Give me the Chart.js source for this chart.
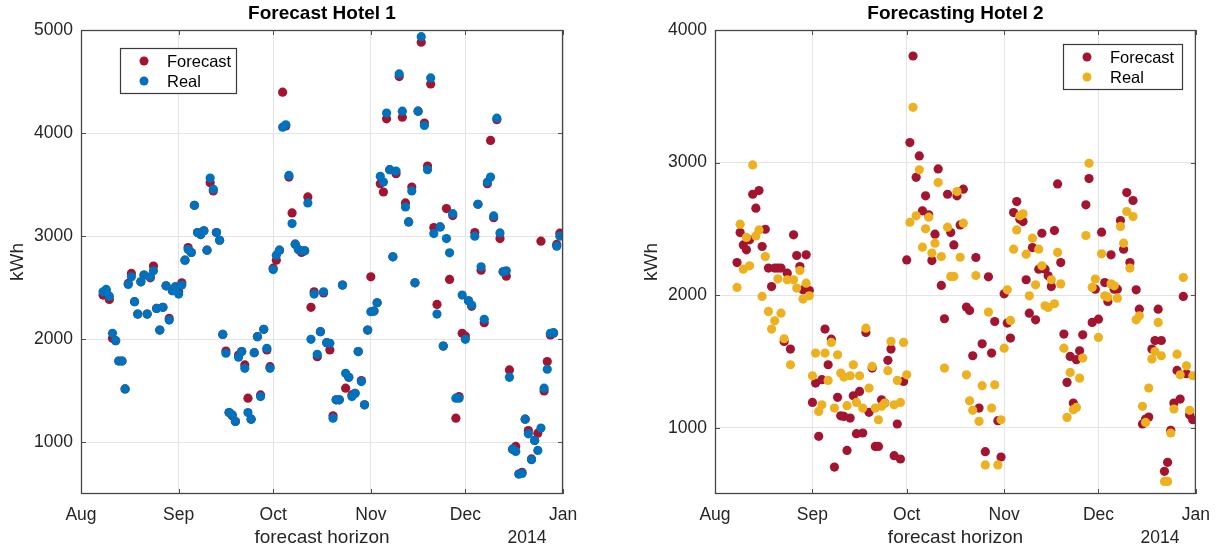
<!DOCTYPE html>
<html>
<head>
<meta charset="utf-8">
<title>Hotel forecasts</title>
<script src="https://cdn.jsdelivr.net/npm/chart.js@4.4.1/dist/chart.umd.min.js"></script>
<style>
    html, body { margin: 0; padding: 0; background: #ffffff; }
    #wrap { position: relative; width: 1221px; height: 548px; overflow: hidden; }
    .panel { position: absolute; top: 0; height: 548px; }
    #leftPanel { left: 0; width: 610px; }
    #rightPanel { left: 610px; width: 611px; }
</style>
</head>
<body>
<div id="wrap">
    <div class="panel" id="leftPanel"><canvas id="hotel1Chart" width="610" height="548"></canvas></div>
    <div class="panel" id="rightPanel"><canvas id="hotel2Chart" width="611" height="548"></canvas></div>
</div>
<script>
const FONT = 'Helvetica, Arial, "Liberation Sans", sans-serif';

// date axis: day offsets counted from 1 Aug 2013
const monthLabels = ["Aug", "Sep", "Oct", "Nov", "Dec", "Jan"];
const monthStarts = [0, 31, 61, 92, 122, 153];
const firstDay = 7; // first reading is 8 Aug
const yearLabel = "2014";

const hotel1Ticks = [1000, 2000, 3000, 4000, 5000];
const hotel2Ticks = [1000, 2000, 3000, 4000];

// Hotel 1, daily kWh (8 Aug .. 31 Dec)
const hotel1Forecast = [
    2429, 2470, 2387, 2010, 1987, 1790, 1790, 1519, 2542, 2639, 2365, 2245, 2558, 2623, 2245, 2597, 2710, 2300, 2090, 2310, 2519, 2203, 2471, 2510,
    2461, 2548, 2768, 2890, 2842, 3300, 3035, 3016, 3052, 2865, 3519, 3439, 3035, 2961, 2048, 1887, 1290, 1258, 1203, 1848, 1881, 1752, 1429, 1226, 1871, 2026, 1461, 2097, 1897, 1735,
    2690, 2768, 2865, 4397, 4070, 3574, 3226, 2923, 2871, 2842, 2858, 3381, 2310, 2461, 1832, 2074, 2450, 1968, 1897, 1258, 1413, 1413, 2526, 1526, 1632, 1461, 1477, 1881, 1600, 1365, 2090,
    2606, 2274, 2355, 3510, 3429, 4139, 3645, 2800, 3606, 4548, 4155, 3323, 3139, 3477, 2548, 4213, 4881, 4097, 3681, 4477, 3084, 2339, 3090, 1935, 3268, 2581, 3200, 1235, 1445, 2058,
    2032, 2374, 2320, 3035, 3310, 2671, 2161, 3510, 3929, 3180, 4130, 2977, 2655, 2613, 1703, 935, 961, 694, 710, 1226, 1116, 840, 1020, 1090, 2952, 1500, 1784, 2042, 2060, 2920, 3030
];
const hotel1Real = [
    2461, 2484, 2419, 2058, 1987, 1790, 1790, 1519, 2532, 2606, 2365, 2245, 2558, 2623, 2245, 2606, 2665, 2300, 2090, 2310, 2519, 2187, 2471, 2510,
    2439, 2526, 2768, 2871, 2842, 3300, 3035, 3016, 3052, 2865, 3564, 3455, 3035, 2961, 2048, 1865, 1290, 1268, 1203, 1826, 1881, 1719, 1290, 1226, 1871, 2026, 1445, 2097, 1913, 1719,
    2677, 2816, 2865, 4058, 4081, 3590, 3123, 2923, 2871, 2858, 2858, 3323, 2000, 2439, 1855, 2074, 2461, 1968, 1961, 1235, 1413, 1413, 2526, 1671, 1632, 1445, 1477, 1881, 1590, 1365, 2090,
    2268, 2274, 2355, 3581, 3526, 4194, 3645, 2800, 3632, 4574, 4213, 3284, 3139, 3439, 2548, 4213, 4935, 4074, 3645, 4535, 3026, 2245, 3090, 1935, 2977, 2839, 3219, 1429, 1429, 2429,
    2000, 2374, 2332, 3000, 3310, 2703, 2194, 3526, 3574, 3197, 4145, 3032, 2655, 2665, 1632, 935, 913, 694, 700, 1226, 1084, 832, 1019, 923, 1139, 1526, 1710, 2058, 2065, 2903, 3000
];

// Hotel 2, daily kWh (8 Aug .. 31 Dec)
const hotel2Forecast = [
    2246, 2472, 2379, 2342, 2417, 2761, 2656, 2789, 2367, 2497, 2204, 2065, 2204, 2204, 2204, 1651, 2166, 1593, 2455, 2299, 2216, 2040, 2304, 2035,
    1191, 1337, 935, 1362, 1744, 1475, 1668, 703, 1229, 1090, 1085, 829, 1073, 1241, 955, 1274, 960, 1719, 1116, 1450, 859, 859, 1211, 1186, 1508, 1593, 789, 1028, 764, 1349,
    2266, 3151, 3804, 2889, 3050, 2636, 2749, 2606, 2261, 2460, 2952, 2073, 1822, 2761, 2472, 2379, 2749, 2530, 2799, 1910, 1884, 1543, 2284, 1148, 1633, 819, 2138, 1563, 1801, 1053, 779,
    2010, 1789, 1676, 2623, 2706, 2573, 2555, 2116, 1864, 2359, 1814, 2196, 2467, 2196, 2146, 2065, 2487, 2839, 2246, 1706, 1342, 1538, 1186, 1513, 1580, 1701, 2681, 2879, 1794, 2045,
    1819, 2475, 2095, 1952, 2304, 2045, 2045, 2563, 2347, 2774, 2246, 2714, 2040, 1894, 1028, 1065, 1080, 1593, 1658, 1894, 1658, 671, 739, 980, 1186, 1432, 1216, 1990, 1407, 1098, 1060
];
const hotel2Real = [
    2058, 2535, 2196, 2435, 2221, 2982, 2447, 2492, 1990, 2291, 1877, 1744, 1807, 2123, 1864, 1671, 2116, 1475, 2116, 2053, 2186, 1970, 2090, 1995,
    1392, 1563, 1123, 1173, 1563, 1357, 1643, 1148, 1550, 1412, 1382, 1166, 1392, 1475, 1191, 1392, 1148, 1751, 1299, 1462, 1148, 1060, 1161, 1186, 1430, 1651, 1173, 1357, 1191, 1643,
    1399, 2550, 3417, 2598, 2945, 2362, 2500, 2588, 2317, 2392, 2849, 2291, 1450, 2513, 2141, 2141, 2781, 2286, 2543, 1399, 1203, 1131, 2148, 1048, 1317, 719, 1872, 1148, 1324, 719, 1060,
    1600, 2040, 1809, 2347, 2492, 2598, 2613, 2309, 1995, 2430, 2078, 2347, 2221, 1920, 1907, 2116, 1935, 2322, 2085, 1600, 1078, 1417, 1136, 1153, 1374, 1525, 2450, 2995, 2058, 2121,
    1681, 2312, 1995, 1985, 2085, 2070, 1977, 2518, 2392, 2631, 2204, 2593, 1814, 1844, 1161, 1040, 1299, 1518, 1575, 1794, 1543, 595, 595, 960, 1141, 1555, 1399, 2133, 1467, 1131, 1392
];

const RED = "#A2142F";
const BLUE = "#0072BD";
const YELLOW = "#EDB120";
const INK = "#262626";

function toPoints(values) {
    return values.map((v, i) => ({ x: firstDay + i, y: v }));
}

// Draws the MATLAB look: box, inward ticks, title, labels and legend
const matlabAxes = {
    id: "matlabAxes",
    afterDraw(chart, args, opts) {
        const { ctx, chartArea: a, scales } = chart;
        const line = (x1, y1, x2, y2) => {
            ctx.beginPath();
            ctx.moveTo(x1, y1);
            ctx.lineTo(x2, y2);
            ctx.stroke();
        };
        ctx.save();

        ctx.strokeStyle = "#4d4d4d";
        ctx.lineWidth = 1;
        scales.x.ticks.forEach((t) => {
            const px = Math.round(scales.x.getPixelForValue(t.value)) + 0.5;
            line(px, a.bottom, px, a.bottom - 5);
            line(px, a.top, px, a.top + 5);
        });
        scales.y.ticks.forEach((t) => {
            const py = Math.round(scales.y.getPixelForValue(t.value)) + 0.5;
            line(a.left, py, a.left + 5, py);
            line(a.right, py, a.right - 5, py);
        });
        ctx.lineWidth = 1.3;
        ctx.strokeStyle = "#474747";
        ctx.strokeRect(a.left + 0.5, a.top + 0.5, a.width - 1, a.height - 1);

        const cx = (a.left + a.right) / 2;
        ctx.fillStyle = "#000000";
        ctx.textAlign = "center";
        ctx.textBaseline = "alphabetic";
        ctx.font = `bold 19px ${FONT}`;
        ctx.fillText(opts.title, cx, 19);

        ctx.fillStyle = INK;
        ctx.font = `19px ${FONT}`;
        ctx.fillText("forecast horizon", cx, 543);
        ctx.font = `17.5px ${FONT}`;
        ctx.fillText(yearLabel, a.right - 36, 543);

        ctx.save();
        ctx.translate(opts.yLabelX, (a.top + a.bottom) / 2);
        ctx.rotate(-Math.PI / 2);
        ctx.textBaseline = "middle";
        ctx.font = `19px ${FONT}`;
        ctx.fillText("kWh", 0, 0);
        ctx.restore();

        // legend
        const lg = opts.legend;
        ctx.fillStyle = "#ffffff";
        ctx.fillRect(lg.x, lg.y, lg.w, lg.h);
        ctx.strokeStyle = "#3a3a3a";
        ctx.lineWidth = 1.2;
        ctx.strokeRect(lg.x + 0.5, lg.y + 0.5, lg.w, lg.h);
        ctx.textAlign = "left";
        ctx.textBaseline = "middle";
        ctx.font = `16.5px ${FONT}`;
        chart.data.datasets
            .slice()
            .sort((p, q) => p.legendRow - q.legendRow)
            .forEach((ds, i) => {
                const yy = lg.y + 13 + i * 20;
                ctx.fillStyle = ds.backgroundColor;
                ctx.beginPath();
                ctx.arc(lg.x + 24, yy, 4.5, 0, Math.PI * 2);
                ctx.fill();
                ctx.fillStyle = "#000000";
                ctx.fillText(ds.label, lg.x + 47, yy + 1);
            });

        ctx.restore();
    },
};

function buildChart(canvasId, cfg) {
    const ctx = document.getElementById(canvasId);
    return new Chart(ctx, {
        type: "scatter",
        data: {
            datasets: [
                {
                    label: "Forecast",
                    data: toPoints(cfg.forecast),
                    backgroundColor: RED,
                    pointRadius: 4.6,
                    pointBorderWidth: 0,
                    order: 1,
                    legendRow: 0,
                },
                {
                    label: "Real",
                    data: toPoints(cfg.real),
                    backgroundColor: cfg.realColor,
                    pointRadius: 4.6,
                    pointBorderWidth: 0,
                    order: 0,
                    legendRow: 1,
                },
            ],
        },
        options: {
            responsive: false,
            animation: false,
            devicePixelRatio: 1,
            layout: {
                padding: { left: 0, right: cfg.padRight, top: 30, bottom: 0 },
            },
            plugins: {
                legend: { display: false },
                title: { display: false },
                tooltip: { enabled: false },
                matlabAxes: {
                    title: cfg.title,
                    legend: cfg.legend,
                    yLabelX: cfg.yLabelX,
                },
            },
            scales: {
                x: {
                    type: "linear",
                    min: monthStarts[0],
                    max: monthStarts[monthStarts.length - 1],
                    afterFit: (scale) => {
                        scale.height = 54;
                    },
                    afterBuildTicks: (scale) => {
                        scale.ticks = monthStarts.map((v) => ({ value: v }));
                    },
                    ticks: {
                        autoSkip: false,
                        maxRotation: 0,
                        padding: 11,
                        color: INK,
                        font: { family: FONT, size: 17.5 },
                        callback: (value) => monthLabels[monthStarts.indexOf(value)],
                    },
                    grid: { color: "#e4e4e4", lineWidth: 1, drawTicks: false },
                    border: { display: false },
                },
                y: {
                    type: "linear",
                    min: cfg.yMin,
                    max: cfg.yMax,
                    afterFit: (scale) => {
                        scale.width = cfg.axisLeft;
                    },
                    afterBuildTicks: (scale) => {
                        scale.ticks = cfg.yTicks.map((v) => ({ value: v }));
                    },
                    ticks: {
                        padding: 8,
                        color: INK,
                        font: { family: FONT, size: 17.5 },
                        callback: (value) => String(value),
                    },
                    grid: { color: "#e4e4e4", lineWidth: 1, drawTicks: false },
                    border: { display: false },
                },
            },
        },
        plugins: [matlabAxes],
    });
}

buildChart("hotel1Chart", {
    title: "Forecast Hotel 1",
    forecast: hotel1Forecast,
    real: hotel1Real,
    realColor: BLUE,
    yMin: 500,
    yMax: 5000,
    yTicks: hotel1Ticks,
    axisLeft: 81,
    padRight: 47,
    yLabelX: 18,
    legend: { x: 120, y: 48, w: 116, h: 45 },
});

buildChart("hotel2Chart", {
    title: "Forecasting Hotel 2",
    forecast: hotel2Forecast,
    real: hotel2Real,
    realColor: YELLOW,
    yMin: 500,
    yMax: 4000,
    yTicks: hotel2Ticks,
    axisLeft: 105,
    padRight: 25,
    yLabelX: 42,
    legend: { x: 453, y: 44, w: 119, h: 45 },
});
</script>
</body>
</html>
